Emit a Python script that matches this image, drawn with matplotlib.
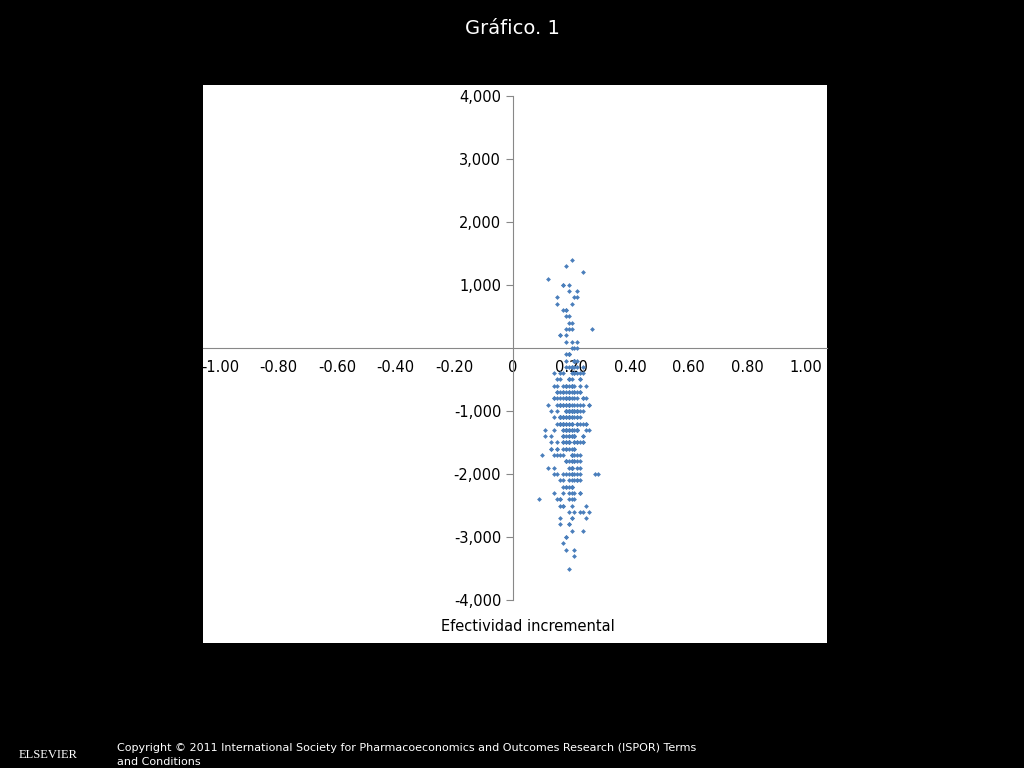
import matplotlib.pyplot as plt

eff = [
    0.19, 0.20, 0.21, 0.17, 0.16, 0.22, 0.18, 0.19, 0.20, 0.23, 0.15, 0.14, 0.24, 0.21, 0.18,
    0.17, 0.19, 0.20, 0.22, 0.16, 0.18, 0.21, 0.19, 0.20, 0.17, 0.23, 0.25, 0.13, 0.15, 0.19,
    0.20, 0.18, 0.21, 0.22, 0.16, 0.17, 0.19, 0.24, 0.14, 0.20, 0.18, 0.21, 0.19, 0.17, 0.22,
    0.20, 0.16, 0.23, 0.18, 0.19, 0.21, 0.15, 0.20, 0.22, 0.17, 0.19, 0.18, 0.24, 0.26, 0.12,
    0.19, 0.20, 0.21, 0.18, 0.17, 0.16, 0.22, 0.23, 0.19, 0.20, 0.15, 0.21, 0.18, 0.19, 0.20,
    0.17, 0.22, 0.16, 0.24, 0.14, 0.19, 0.20, 0.18, 0.21, 0.23, 0.17, 0.19, 0.20, 0.16, 0.22,
    0.18, 0.21, 0.15, 0.19, 0.25, 0.13, 0.20, 0.18, 0.22, 0.17, 0.19, 0.21, 0.20, 0.16, 0.23,
    0.18, 0.19, 0.14, 0.24, 0.20, 0.21, 0.17, 0.22, 0.19, 0.18, 0.15, 0.20, 0.26, 0.11, 0.19,
    0.21, 0.18, 0.20, 0.17, 0.23, 0.16, 0.19, 0.22, 0.20, 0.18, 0.24, 0.14, 0.19, 0.21, 0.17,
    0.20, 0.15, 0.22, 0.18, 0.19, 0.23, 0.16, 0.20, 0.21, 0.17, 0.19, 0.18, 0.25, 0.13, 0.20,
    0.19, 0.21, 0.18, 0.22, 0.17, 0.20, 0.16, 0.23, 0.19, 0.18, 0.21, 0.15, 0.20, 0.24, 0.17,
    0.19, 0.22, 0.18, 0.20, 0.14, 0.21, 0.19, 0.16, 0.23, 0.18, 0.20, 0.17, 0.22, 0.19, 0.21,
    0.18, 0.20, 0.15, 0.24, 0.19, 0.17, 0.22, 0.16, 0.20, 0.21, 0.18, 0.19, 0.23, 0.14, 0.20,
    0.17, 0.21, 0.19, 0.18, 0.22, 0.20, 0.16, 0.19, 0.25, 0.12, 0.18, 0.21, 0.20, 0.17, 0.23,
    0.19, 0.15, 0.22, 0.18, 0.20, 0.21, 0.16, 0.19, 0.24, 0.17, 0.20, 0.18, 0.22, 0.19, 0.14,
    0.21, 0.18, 0.20, 0.26, 0.10, 0.19, 0.17, 0.23, 0.16, 0.20, 0.21, 0.18, 0.19, 0.22, 0.15,
    0.20, 0.17, 0.19, 0.24, 0.13, 0.21, 0.18, 0.20, 0.22, 0.16, 0.19, 0.23, 0.17, 0.20, 0.18,
    0.21, 0.19, 0.15, 0.22, 0.20, 0.18, 0.17, 0.25, 0.14, 0.19, 0.21, 0.16, 0.20, 0.23, 0.18,
    0.19, 0.22, 0.17, 0.20, 0.21, 0.18, 0.16, 0.24, 0.19, 0.15, 0.20, 0.22, 0.18, 0.21, 0.17,
    0.19, 0.20, 0.23, 0.16, 0.18, 0.21, 0.19, 0.14, 0.22, 0.20, 0.17, 0.26, 0.12, 0.19, 0.18,
    0.21, 0.20, 0.16, 0.23, 0.18, 0.19, 0.22, 0.17, 0.20, 0.15, 0.21, 0.24, 0.19, 0.18, 0.20,
    0.17, 0.22, 0.16, 0.19, 0.21, 0.20, 0.18, 0.23, 0.13, 0.25, 0.19, 0.17, 0.20, 0.22, 0.18,
    0.19, 0.21, 0.16, 0.20, 0.24, 0.15, 0.18, 0.22, 0.19, 0.17, 0.20, 0.21, 0.23, 0.18, 0.19,
    0.28, 0.09, 0.27, 0.11, 0.29, 0.18, 0.20, 0.22, 0.16, 0.25, 0.17, 0.21, 0.19, 0.24, 0.15,
]
cost = [
    -900, -1100, -700, -1300, -500, -1000, -800, -1500, -600, -1200, -1000, -400, -900, -1400, -300,
    -1100, -700, -1600, -800, -1200, 100, -200, -1000, -1800, -600, -900, -1300, -1500, -700, -100,
    -1900, -1100, -400, -1200, -800, -2000, -500, -1000, -600, -1300, 200, -1400, -900, -1700, -300,
    -1000, -2100, -700, -1500, -1200, -600, -900, -2200, -1100, -400, 300, -1600, -800, -1300, -1900,
    -1000, -500, -1800, -200, -1400, -1100, -900, -2300, -700, -1200, -1500, 0, -1000, -2400, -600,
    -800, -1300, -1700, -400, -1100, 400, -2000, -900, -1500, -1000, -2500, -300, -1200, -700, -1900,
    -1100, -1600, -800, -2600, -600, -1400, -1000, 500, -1300, -2100, -900, -200, -1700, -1200, -500,
    -2200, -1000, -800, -1500, -2700, -700, -1100, 100, -1400, -2000, -600, -1800, -900, -1300, -2300,
    -1000, 600, -1200, -1600, -400, -900, -2800, -1100, -300, -1500, -800, -1900, -1300, -2400, -700,
    -1000, 700, -1700, -1200, -500, -2100, -900, -1400, -200, -2500, -1100, -3000, -800, -1600, -1000,
    -1300, 800, -600, -2000, -1200, -2900, -900, -1500, -100, -1800, -1100, -700, -2200, -1400, -3100,
    -1000, 900, -1300, -400, -1700, -2600, -800, -1200, -2300, -600, -1900, -1500, 0, -1100, -2000,
    -3200, -900, -1600, -300, -1400, 1000, -1200, -2700, -700, -1800, -1000, -2100, -500, -1300, -2400,
    -1100, -3300, -800, 300, -1500, -1700, -2800, -900, -1200, 1100, -2200, -1000, -600, -1400, -1900,
    -3500, -1600, -200, -1300, -2500, -800, -1100, -1800, 1200, -700, -2000, -1200, -400, -1500, -2300,
    -1000, -3000, 1400, -900, -1700, -100, -1400, -2600, -1100, -600, -2100, -1300, 500, -1800, -2400,
    -800, -1200, -1500, -2900, -1000, -300, -1600, -2200, -700, 200, -1900, -1100, -1300, -2700, -900,
    -1400, -500, -2000, -1000, -1700, 600, -1200, -2500, -800, -1500, -2300, -1100, 0, -1800, -600,
    -1300, -2100, -900, 700, -1600, -1000, -400, -1400, -2800, -1200, -1900, 800, -700, -1500, -2200,
    -1100, -300, -1700, -2400, -1000, -1300, -800, -2000, -1500, 400, -1200, -2600, -900, -1600, -100,
    -1400, -2100, -1100, -600, -1800, 900, -1000, -2300, -1300, -500, -1700, -1200, -2000, -800, 100,
    -1500, -1000, -2500, -1100, -200, -1900, -1400, -700, -1600, -1200, -2200, -900, 300, -1300, -1800,
    -1000, -400, -2400, -1100, -1500, -1700, -800, -2100, -1200, 600, -1400, -900, -2000, -1300, 1000,
    -2000, -2400, 300, -1400, -2000, 1300, -2300, -1300, 200, -2700, 1000, -3200, -600, -2600, 800,
]

x_ticks = [-1.0, -0.8, -0.6, -0.4, -0.2, 0.0, 0.2, 0.4, 0.6, 0.8, 1.0]
x_labels = ["-1.00", "-0.80", "-0.60", "-0.40", "-0.20", "0", "0.20", "0.40", "0.60", "0.80", "1.00"]
y_ticks = [-4000, -3000, -2000, -1000, 1000, 2000, 3000, 4000]

fig = plt.figure(figsize=(10.24, 7.68), dpi=100, facecolor="black")
ax = fig.add_axes([203 / 1024, 1 - 643 / 768, 624 / 1024, 558 / 768])
ax.set_facecolor("white")
ax.scatter(eff, cost, marker="D", s=6, color="#4a7ebb", linewidths=0, zorder=3)

ax.set_xlim(-1.058, 1.072)
ax.set_ylim(-4680, 4170)
ax.spines["left"].set_position(("data", 0))
ax.spines["bottom"].set_position(("data", 0))
ax.spines["right"].set_visible(False)
ax.spines["top"].set_visible(False)
for s in ("left", "bottom"):
    ax.spines[s].set_color("#888888")

ax.set_xticks(x_ticks)
ax.set_xticklabels(x_labels, fontsize=10.5)
ax.set_yticks(y_ticks)
ax.set_yticklabels([f"{v:,}" for v in y_ticks], fontsize=10.5)
ax.tick_params(axis="x", length=0, pad=9)
ax.tick_params(axis="y", direction="out", length=5, color="#888888")
ax.spines["left"].set_bounds(-4000, 4000)

ax.text(0.05, -4420, "Efectividad incremental", ha="center", va="center", fontsize=10.5)

fig.text(0.5, 1 - 28 / 768, "Gráfico. 1", color="white", ha="center", va="center", fontsize=14)
fig.text(117 / 1024, 1 - 735 / 768, "Value in Health 2011 14, S43-S47DOI: (10.1016/j.jval.2011.05.033)",
         color="black", fontsize=8, style="italic", va="center")
fig.text(117 / 1024, 1 - 748 / 768,
         "Copyright © 2011 International Society for Pharmacoeconomics and Outcomes Research (ISPOR) Terms",
         color="white", fontsize=8, va="center")
fig.text(117 / 1024, 1 - 762 / 768, "and Conditions", color="white", fontsize=8, va="center")
fig.text(48 / 1024, 1 - 755 / 768, "ELSEVIER", color="white", fontsize=9, ha="center", va="center",
         family="Liberation Serif")

fig.savefig("out.png", dpi=100, facecolor="black")
